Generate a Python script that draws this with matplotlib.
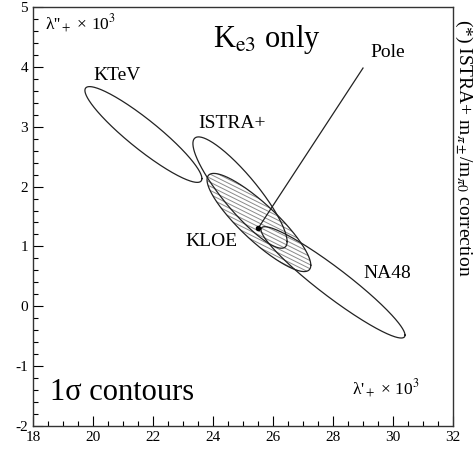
import numpy as np
import matplotlib
matplotlib.use("Agg")
import matplotlib.pyplot as plt
from matplotlib.patches import Polygon
from matplotlib.collections import LineCollection
from matplotlib.ticker import MultipleLocator

plt.rcParams['font.family'] = ['Liberation Serif', 'DejaVu Serif']
plt.rcParams['mathtext.fontset'] = 'stix'
plt.rcParams['axes.unicode_minus'] = False

# 1 sigma contours: centre (lambda'+, lambda''+) x 10^3, errors and correlation
experiments = ["KTeV", "ISTRA+", "KLOE", "NA48"]
lam1 = [21.68, 24.90, 25.53, 28.00]
lam2 = [2.87, 1.90, 1.40, 0.40]
err1 = [1.95, 1.57, 1.73, 2.40]
err2 = [0.80, 0.93, 0.82, 0.93]
corr = [-0.92, -0.88, -0.87, -0.947]

# pole model prediction and where its label sits
pole_x, pole_y = 25.5, 1.3
pole_label = (29.0, 3.98)

label_pos = {"KTeV": (20.0, 3.78), "ISTRA+": (23.5, 2.98),
             "KLOE": (23.07, 1.0), "NA48": (29.0, 0.48)}


def contour(x0, y0, sx, sy, rho, n=400):
    t = np.linspace(0, 2 * np.pi, n)
    x = x0 + sx * np.cos(t)
    y = y0 + sy * (rho * np.cos(t) + np.sqrt(1 - rho**2) * np.sin(t))
    return x, y


fig = plt.figure(figsize=(4.75, 4.57), dpi=100)
ax = fig.add_axes([0.0695, 0.0678, 0.8842, 0.9169])
ax.set_xlim(18, 32)
ax.set_ylim(-2, 5)

for name, x0, y0, sx, sy, rho in zip(experiments, lam1, lam2, err1, err2, corr):
    x, y = contour(x0, y0, sx, sy, rho)
    ax.plot(x, y, color='#222222', lw=0.9, zorder=3)
    if name == "KLOE":
        # shallow hatching clipped to the KLOE contour
        clip = Polygon(np.column_stack([x, y]), closed=True, transform=ax.transData,
                       facecolor='none', edgecolor='none')
        ax.add_patch(clip)
        segs = []
        xs = np.array([x.min() - 0.5, x.max() + 0.5])
        for c in np.arange(-4.0, 8.0, 0.068):
            segs.append(np.column_stack([xs, c - 0.25 * (xs - 18)]))
        lc = LineCollection(segs, colors='#8a8a8a', linewidths=0.7, zorder=2)
        ax.add_collection(lc)
        lc.set_clip_path(clip)
    lx, ly = label_pos[name]
    ax.text(lx, ly, name, fontsize=14, ha='left', va='baseline')

ax.plot([pole_x, pole_label[0]], [pole_y, pole_label[1]], color='#222222', lw=0.9, zorder=4)
ax.plot(pole_x, pole_y, 'o', color='black', ms=3, zorder=5)
ax.text(29.23, 4.17, "Pole", fontsize=14, ha='left', va='baseline')

ax.text(24.0, 4.33, r"K$_{\rm e3}$ only", fontsize=22, ha='left', va='baseline')
ax.text(18.57, -1.57, "1σ contours", fontsize=22, ha='left', va='baseline')
ax.text(0.029, 0.986, "λ''$_+$ × 10$^3$", transform=ax.transAxes,
        fontsize=12.5, ha='left', va='top')
ax.text(0.921, 0.062, "λ'$_+$ × 10$^3$", transform=ax.transAxes,
        fontsize=12.5, ha='right', va='bottom')
ax.text(1.025, 0.972, "(*) ISTRA+ m$_{\\pi\\pm}$/m$_{\\pi0}$ correction",
        transform=ax.transAxes, fontsize=14, rotation=-90, ha='center', va='top')

ax.xaxis.set_major_locator(MultipleLocator(2))
ax.xaxis.set_minor_locator(MultipleLocator(0.5))
ax.yaxis.set_major_locator(MultipleLocator(1))
ax.yaxis.set_minor_locator(MultipleLocator(0.2))
ax.tick_params(which='both', direction='in', top=False, right=False, labelsize=11)
ax.tick_params(which='major', length=7, width=0.8)
ax.tick_params(which='minor', length=3.5, width=0.8)
for s in ax.spines.values():
    s.set_linewidth(1.0)
    s.set_color('#333333')

fig.savefig("out.png", dpi=100)
